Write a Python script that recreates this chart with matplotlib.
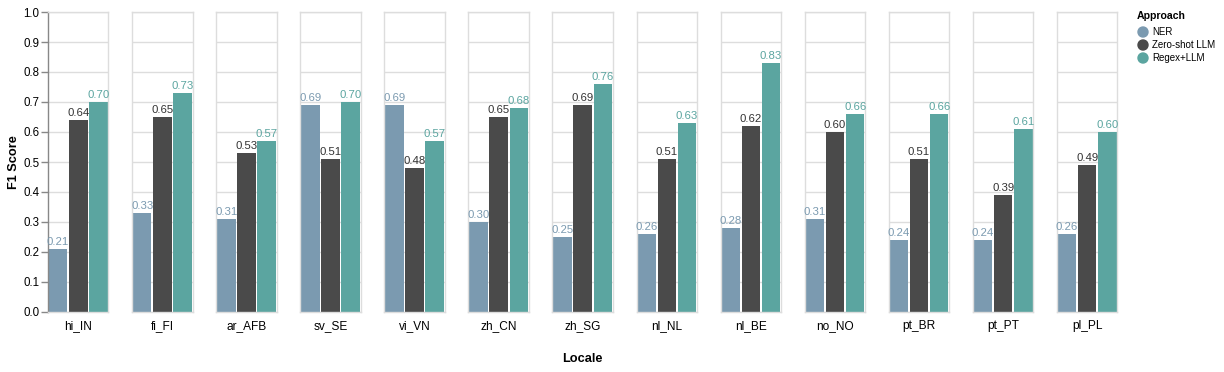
import matplotlib.pyplot as plt
from matplotlib.patches import Ellipse
import numpy as np

plt.rcParams['font.family'] = ['Liberation Sans', 'DejaVu Sans']

locales = ['hi_IN', 'fi_FI', 'ar_AFB', 'sv_SE', 'vi_VN', 'zh_CN', 'zh_SG',
           'nl_NL', 'nl_BE', 'no_NO', 'pt_BR', 'pt_PT', 'pl_PL']
approaches = ['NER', 'Zero-shot LLM', 'Regex+LLM']
ner = [0.21, 0.33, 0.31, 0.69, 0.69, 0.30, 0.25, 0.26, 0.28, 0.31, 0.24, 0.24, 0.26]
zero_shot = [0.64, 0.65, 0.53, 0.51, 0.48, 0.65, 0.69, 0.51, 0.62, 0.60, 0.51, 0.39, 0.49]
regex_llm = [0.70, 0.73, 0.57, 0.70, 0.57, 0.68, 0.76, 0.63, 0.83, 0.66, 0.66, 0.61, 0.60]

colors = ['#7b9ab0', '#4a4a4a', '#5ba5a0']
label_colors = ['#7b9ab0', '#333333', '#5ba5a0']

W, H = 1224, 372
fig = plt.figure(figsize=(W / 100, H / 100), dpi=100)

left0, pitch, fw = 48, 84.08, 60.5
top, bottom = 12, 312
series = [ner, zero_shot, regex_llm]

for i, loc in enumerate(locales):
    x0 = left0 + i * pitch
    ax = fig.add_axes([x0 / W, (H - bottom) / H, fw / W, (bottom - top) / H])
    vals = [s[i] for s in series]
    xs = np.arange(3)
    ax.bar(xs, vals, width=0.92, color=colors, zorder=2)
    for x, v, c in zip(xs, vals, label_colors):
        ax.text(x, v + 0.008, f'{v:.2f}', ha='center', va='bottom',
                fontsize=8.2, color=c, zorder=3)
    ax.set_xlim(-0.5, 2.5)
    ax.set_ylim(0, 1)
    ax.set_yticks(np.arange(0, 1.01, 0.1))
    ax.yaxis.grid(True, color='#dddddd', linewidth=1, zorder=0)
    ax.set_xticks([])
    for s in ax.spines.values():
        s.set_color('#dddddd')
        s.set_linewidth(1)
    if i == 0:
        ax.spines['left'].set_color('#888888')
        ax.set_yticklabels([f'{t:.1f}' for t in np.arange(0, 1.01, 0.1)], fontsize=8.3)
        ax.tick_params(axis='y', length=5, width=1, color='#888888', pad=1)
    else:
        ax.set_yticklabels([])
        ax.tick_params(axis='y', length=0)
    ax.set_xlabel(loc, fontsize=8.6, labelpad=6)

fig.text(14 / W, 1 - 162 / H, 'F1 Score', ha='center', va='center',
         rotation=90, fontsize=9.2, fontweight='bold')
fig.text(582.5 / W, 1 - 359 / H, 'Locale', ha='center', va='center',
         fontsize=9.2, fontweight='bold')

# legend
fig.text(1137 / W, 1 - 16 / H, 'Approach', ha='left', va='center',
         fontsize=7.6, fontweight='bold')
for k, (name, c) in enumerate(zip(approaches, colors)):
    y = 32 + k * 13
    fig.patches.append(Ellipse((1143 / W, 1 - y / H), 10 / W, 10 / H, color=c,
                               transform=fig.transFigure, figure=fig))
    fig.text(1152 / W, 1 - y / H, name, ha='left', va='center', fontsize=7.0)

fig.savefig('out.png', dpi=100)
